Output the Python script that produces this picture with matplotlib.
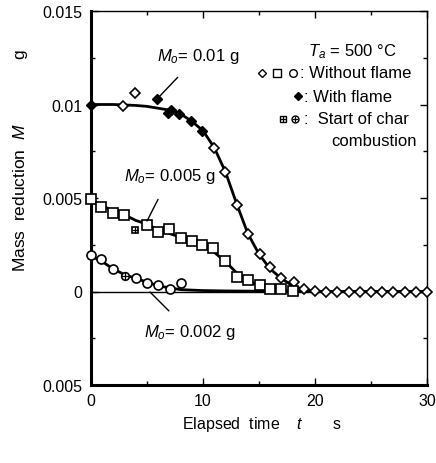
import matplotlib
matplotlib.use("Agg")
import matplotlib.pyplot as plt
from matplotlib.ticker import MultipleLocator, FixedLocator

plt.rcParams['font.family'] = ['Liberation Sans', 'DejaVu Sans']
plt.rcParams['mathtext.fontset'] = 'custom'
plt.rcParams['mathtext.rm'] = 'Liberation Sans'
plt.rcParams['mathtext.it'] = 'Liberation Sans:italic'

# ---- data ----
# M0 = 0.01 g
t10_open = [2.9, 3.9, 11.0, 12.0, 13.0, 14.0, 15.1, 16.0, 17.0, 18.1, 19.0, 20, 21, 22, 23, 24, 25, 26, 27, 28, 29, 30]
m10_open = [0.0099, 0.0106, 0.0077, 0.0064, 0.0046, 0.0031, 0.0020, 0.0013, 0.0007, 0.0005, 0.00016,
            0.00002, 0.0, 0.0, 0.0, 0.0, 0.0, 0.0, 0.0, 0.0, 0.0, 0.0]
t10_fill = [0.0, 5.9, 6.9, 7.1, 7.9, 8.9, 9.9]
m10_fill = [0.0100, 0.0103, 0.00957, 0.0097, 0.00947, 0.0091, 0.0086]
t10_fit = [0, 2, 4, 5, 6, 7, 8, 9, 10, 11, 12, 13, 14, 15, 16, 17, 18, 19, 20, 30]
m10_fit = [0.0100, 0.0100, 0.00995, 0.0099, 0.0098, 0.0097, 0.0095, 0.0091, 0.0086, 0.0077, 0.0064,
           0.0047, 0.0031, 0.0020, 0.0012, 0.0007, 0.0003, 0.0001, 0.0, 0.0]

# M0 = 0.005 g
t5 = [0, 0.9, 2.0, 2.95, 4.97, 5.95, 6.96, 8.0, 9.0, 9.9, 10.9, 12.0, 13.05, 14.05, 15.1, 16.0, 17.0, 18.0]
m5 = [0.00494, 0.00453, 0.00421, 0.00408, 0.00358, 0.00319, 0.00332, 0.00287, 0.00269, 0.00251,
      0.00234, 0.00161, 0.00079, 0.00064, 0.00037, 0.00012, 0.00012, 0.00002]
t5_char = [3.9]
m5_char = [0.00328]
t5_fit = [0, 1, 2, 3, 4, 5, 6, 7, 8, 9, 10, 11, 12, 13, 14, 15, 16, 17, 18, 30]
m5_fit = [0.0048, 0.0046, 0.0043, 0.0041, 0.0038, 0.0036, 0.0033, 0.0031, 0.0029, 0.0027, 0.0025,
          0.0021, 0.0016, 0.0010, 0.0006, 0.0003, 0.00015, 0.00005, 0.0, 0.0]

# M0 = 0.002 g
t2 = [0, 0.9, 2.0, 4.0, 5.0, 6.0, 7.05, 8.0]
m2 = [0.00194, 0.00176, 0.00119, 0.0007, 0.00048, 0.00034, 0.00016, 0.00048]
t2_char = [3.0]
m2_char = [0.00082]
t2_fit = [0, 1, 2, 3, 4, 5, 6, 7, 8, 10, 12, 14, 16, 18, 30]
m2_fit = [0.0019, 0.0016, 0.0012, 0.0009, 0.0007, 0.0005, 0.0003, 0.0002, 0.0001, 0.00005, 0.00003,
          0.00002, 0.0, 0.0, 0.0]

xticks = [0, 10, 20, 30]
yticks = [0.015, 0.01, 0.005, 0, -0.005]
yticklabels = ['0.015', '0.01', '0.005', '0', '0.005']

# ---- figure ----
fig = plt.figure(figsize=(4.36, 4.64), dpi=100)
ax = fig.add_axes([91/436, 78/464, 336/436, 374/464])
ax.set_xlim(0, 30)
ax.set_ylim(-0.005, 0.015)

ax.axhline(0, color='black', lw=1.0, zorder=1)

ax.plot(t10_fit, m10_fit, color='black', lw=2.0, zorder=2)
ax.plot(t5_fit, m5_fit, color='black', lw=2.0, zorder=2)
ax.plot(t2_fit, m2_fit, color='black', lw=2.0, zorder=2)

mk = dict(linestyle='none', color='black', markerfacecolor='white', markeredgewidth=1.2, zorder=3, clip_on=False)
ax.plot(t10_open, m10_open, marker='D', markersize=4.8, **mk)
ax.plot(t10_fill, m10_fill, marker='D', markersize=5, linestyle='none', color='black', zorder=3, clip_on=False)
ax.plot(t5, m5, marker='s', markersize=6.5, **mk)
ax.plot(t2, m2, marker='o', markersize=6.5, **mk)
ax.plot(t5_char, m5_char, marker='s', markersize=5, **mk)
ax.plot(t5_char, m5_char, marker='+', markersize=5, linestyle='none', color='black', mew=0.9, zorder=4)
ax.plot(t2_char, m2_char, marker='o', markersize=5.5, **mk)
ax.plot(t2_char, m2_char, marker='+', markersize=5.5, linestyle='none', color='black', mew=0.9, zorder=4)

# axes styling
ax.xaxis.set_major_locator(FixedLocator(xticks))
ax.xaxis.set_minor_locator(MultipleLocator(5))
ax.yaxis.set_major_locator(FixedLocator(yticks))
ax.yaxis.set_minor_locator(MultipleLocator(0.0025))
ax.set_yticklabels(yticklabels)
ax.tick_params(which='both', direction='in', top=True, right=True, labelsize=11.5)
ax.tick_params(which='major', length=5, width=1)
ax.tick_params(which='minor', length=3, width=1)
ax.tick_params(axis='x', pad=6)
ax.tick_params(axis='y', pad=6)
ax.spines['left'].set_linewidth(2.2)
ax.spines['bottom'].set_linewidth(2.2)
ax.spines['top'].set_linewidth(1.0)
ax.spines['right'].set_linewidth(1.0)

# axis labels
fig.text(262/436, 1 - 424/464, 'Elapsed  time    $t$       s', ha='center', va='center', fontsize=11.5)
fig.text(20/436, 1 - 198/464, 'Mass  reduction  $M$', ha='center', va='center',
         rotation=90, fontsize=12.5)
fig.text(20/436, 1 - 54/464, 'g', ha='center', va='center', rotation=90, fontsize=12.5)

# annotations
def px(x, y):
    return ((x - 91) / 336, (386 - y) / 374)

ax.annotate('$M_o$= 0.01 g', xy=px(158, 99), xycoords='axes fraction',
            xytext=px(198, 57), textcoords='axes fraction', ha='center', va='center', fontsize=12,
            arrowprops=dict(arrowstyle='-', color='black', lw=1.0, shrinkA=9, shrinkB=0))
ax.annotate('$M_o$= 0.005 g', xy=px(147, 222), xycoords='axes fraction',
            xytext=px(170, 177), textcoords='axes fraction', ha='center', va='center', fontsize=12,
            arrowprops=dict(arrowstyle='-', color='black', lw=1.0, shrinkA=9, shrinkB=0))
ax.annotate('$M_o$= 0.002 g', xy=px(150, 293), xycoords='axes fraction',
            xytext=px(190, 333), textcoords='axes fraction', ha='center', va='center', fontsize=12,
            arrowprops=dict(arrowstyle='-', color='black', lw=1.0, shrinkA=9, shrinkB=0))

# legend block
fs = 12
ax.text(*px(308, 52), '$T_a$ = 500 \u00b0C', transform=ax.transAxes, ha='left', va='center', fontsize=fs)
kw = dict(transform=ax.transAxes, clip_on=False, linestyle='none', color='black')
ax.plot(*px(262, 74), marker='D', markersize=4, markerfacecolor='white', **kw)
ax.plot(*px(277, 74), marker='s', markersize=5.5, markerfacecolor='white', **kw)
ax.plot(*px(293, 74), marker='o', markersize=5.5, markerfacecolor='white', **kw)
ax.text(*px(300, 74), ': Without flame', transform=ax.transAxes, ha='left', va='center', fontsize=fs)
ax.plot(*px(298, 97), marker='D', markersize=4, **kw)
ax.text(*px(304, 97), ': With flame', transform=ax.transAxes, ha='left', va='center', fontsize=fs)
ax.plot(*px(283, 120), marker='s', markersize=5, markerfacecolor='white', **kw)
ax.plot(*px(283, 120), marker='+', markersize=5, mew=0.9, **kw)
ax.plot(*px(295, 120), marker='o', markersize=5, markerfacecolor='white', **kw)
ax.plot(*px(295, 120), marker='+', markersize=5, mew=0.9, **kw)
ax.text(*px(304, 120), ':  Start of char', transform=ax.transAxes, ha='left', va='center', fontsize=fs)
ax.text(*px(331, 141), 'combustion', transform=ax.transAxes, ha='left', va='center', fontsize=fs)

fig.savefig('out.png', dpi=100)
